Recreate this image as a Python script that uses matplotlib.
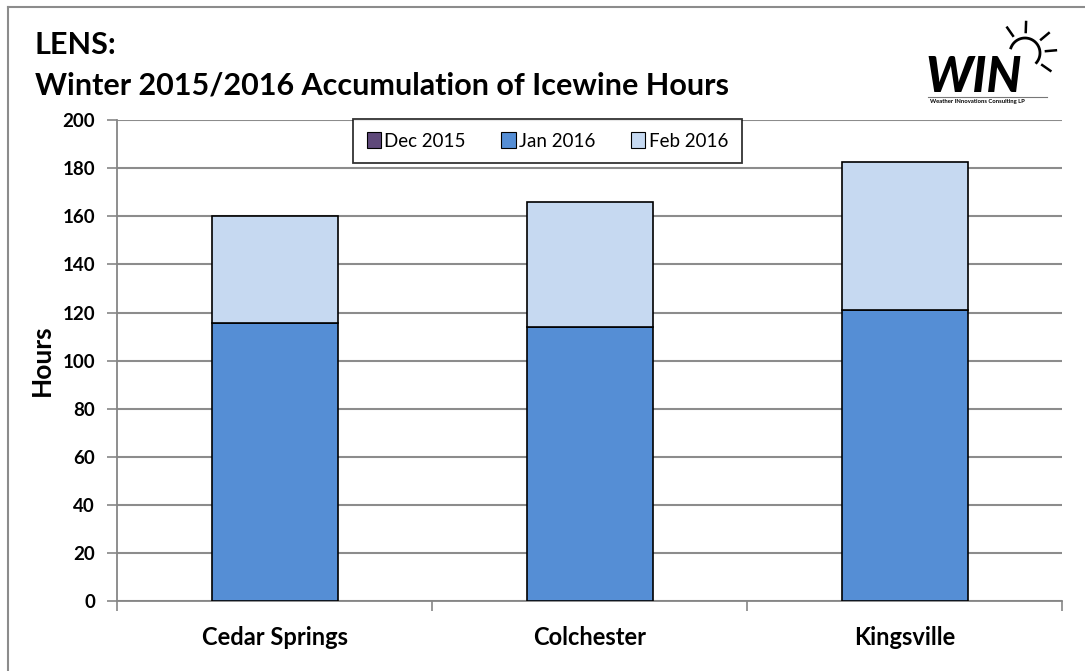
import numpy as np
import matplotlib.pyplot as plt
from matplotlib.patches import Patch

plt.rcParams['font.family'] = ['Lato', 'DejaVu Sans']

# data
sites = ['Cedar Springs', 'Colchester', 'Kingsville']
dec_2015 = [0, 0, 0]
jan_2016 = [115.5, 114, 121]
feb_2016 = [44.5, 52, 61.5]
series_names = ['Dec 2015', 'Jan 2016', 'Feb 2016']
colors = ['#5F497A', '#558ED5', '#C6D9F1']
y_ticks = list(range(0, 201, 20))

fig = plt.figure(figsize=(10.85, 6.71), dpi=100)
ax = fig.add_axes([0.108, 0.104, 0.871, 0.717])

x = np.arange(len(sites))
bottom = np.zeros(len(sites))
for vals, name, col in zip([dec_2015, jan_2016, feb_2016], series_names, colors):
    ax.bar(x, vals, width=0.4, bottom=bottom, color=col, edgecolor='black',
           linewidth=1.2, label=name, zorder=3)
    bottom += np.array(vals)

ax.set_xlim(-0.5, len(sites) - 0.5)
ax.set_ylim(0, 200)
ax.set_yticks(y_ticks)
ax.set_xticks(x)
ax.set_xticklabels(sites, fontsize=17, fontweight='bold')
ax.set_xticks(np.arange(len(sites) + 1) - 0.5, minor=True)
ax.tick_params(axis='x', which='major', length=0, pad=18)
ax.tick_params(axis='x', which='minor', length=7, color='#868686', width=1.2)
ax.tick_params(axis='y', length=7, color='#868686', width=1.2, labelsize=13.5, pad=9)
for lab in ax.get_yticklabels():
    lab.set_fontweight('bold')

ax.grid(axis='y', color='#8C8C8C', linewidth=1.5, zorder=0)
for side in ['top', 'right']:
    ax.spines[side].set_visible(False)
ax.spines['left'].set_color('#868686')
ax.spines['bottom'].set_color('#868686')
ax.spines['left'].set_linewidth(1.3)
ax.spines['bottom'].set_linewidth(1.3)

ax.set_ylabel('Hours', fontsize=19, fontweight='bold', labelpad=6)

handles = [Patch(facecolor=c, edgecolor='black', linewidth=0.8) for c in colors]
leg = fig.legend(handles, series_names, loc='upper center', ncol=3,
                 bbox_to_anchor=(0.5046, 0.8227), fontsize=13.5, frameon=True,
                 fancybox=False, handlelength=0.75, handleheight=0.95,
                 handletextpad=0.2, columnspacing=1.9, borderpad=0.7,
                 borderaxespad=0)
leg.get_frame().set_edgecolor('black')
leg.get_frame().set_linewidth(1.3)

fig.text(0.032, 0.933, 'LENS:', fontsize=22, fontweight='bold', va='center')
fig.text(0.032, 0.872, 'Winter 2015/2016 Accumulation of Icewine Hours',
         fontsize=22, fontweight='bold', va='center')

# outer border (left and top only are visible in the reference)
fig.add_artist(plt.Line2D([0.0075, 0.0075], [0, 0.99], color='#8C8C8C', lw=1.5))
fig.add_artist(plt.Line2D([0.0075, 1], [0.99, 0.99], color='#8C8C8C', lw=1.5))

# WIN logo
fig.text(0.853, 0.885, 'WIN', fontsize=35, fontweight='black', style='italic',
         va='center', ha='left')
fig.text(0.857, 0.849, 'Weather INnovations Consulting LP', fontsize=4.2,
         fontweight='bold', va='center', ha='left')
fig.add_artist(plt.Line2D([0.855, 0.965], [0.856, 0.856], color='#777777', lw=0.8))
cx, cy, r = 1025, 618, 15
th = np.linspace(np.radians(-40), np.radians(160), 40)
fig.add_artist(plt.Line2D((cx + r * np.cos(th)) / 1085, (cy + r * np.sin(th)) / 671,
                          color='black', lw=2))
for ang in [125, 88, 40, 5, -35]:
    a = np.radians(ang)
    fig.add_artist(plt.Line2D([(cx + 21 * np.cos(a)) / 1085, (cx + 31 * np.cos(a)) / 1085],
                              [(cy + 21 * np.sin(a)) / 671, (cy + 31 * np.sin(a)) / 671],
                              color='black', lw=1.8))

fig.savefig('out.png', dpi=100)
